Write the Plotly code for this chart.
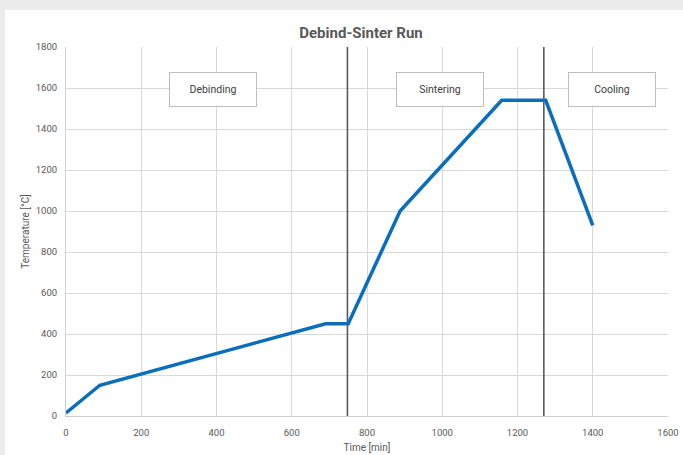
import plotly.graph_objects as go

# Data
time_min = [0, 90, 690, 750, 888, 1158, 1275, 1400]
temp_c = [15, 150, 450, 450, 1000, 1540, 1540, 930]
phase_boundaries = [748, 1270]
phase_labels = ["Debinding", "Sintering", "Cooling"]
phase_label_x = [390, 995, 1450]
phase_label_y = [1595, 1595, 1595]
x_ticks = [0, 200, 400, 600, 800, 1000, 1200, 1400, 1600]
y_ticks = [0, 200, 400, 600, 800, 1000, 1200, 1400, 1600, 1800]

W, H = 683, 455
ml, mr, mt, mb = 66, 15, 47, 39
pw, ph = W - ml - mr, H - mt - mb

fig = go.Figure()

for xb in phase_boundaries:
    fig.add_trace(go.Scatter(x=[xb, xb], y=[0, 1800], mode="lines",
                             line=dict(color="#5a5a5a", width=1.6),
                             showlegend=False, hoverinfo="skip"))

fig.add_trace(go.Scatter(x=time_min, y=temp_c, mode="lines",
                         line=dict(color="#0a6ebd", width=3.5),
                         showlegend=False))

for lx, ly, lt in zip(phase_label_x, phase_label_y, phase_labels):
    fig.add_annotation(x=lx, y=ly, xref="x", yref="y", text=lt, showarrow=False,
                       font=dict(family="Roboto", size=10.5, color="#404040"),
                       bgcolor="white", bordercolor="#bdbdbd", borderwidth=1,
                       width=84, height=31, xanchor="center", yanchor="middle")

# white card
fig.add_shape(type="rect", xref="paper", yref="paper",
              x0=(5 - ml) / pw, x1=1 + (mr + 2) / pw,
              y0=-(mb + 2) / ph, y1=1 + (mt - 10) / ph,
              fillcolor="white", line=dict(width=0), layer="below")

axis_common = dict(showgrid=True, gridcolor="#d9d9d9", gridwidth=1,
                   zeroline=False, ticks="", automargin=False,
                   tickfont=dict(family="Roboto", size=9.5, color="#595959"))

fig.update_layout(
    width=W, height=H,
    margin=dict(l=ml, r=mr, t=mt, b=mb),
    paper_bgcolor="#ececec", plot_bgcolor="white",
    title=dict(text="<b>Debind-Sinter Run</b>", x=361 / W, xanchor="center",
               y=1 - 33 / H, yanchor="middle",
               font=dict(family="Liberation Sans Narrow, Roboto", size=15, color="#595959")),
    xaxis=dict(range=[0, 1600], tickvals=x_ticks, ticklabelstandoff=8,
               title=dict(text="Time [min]", standoff=6,
                          font=dict(family="Roboto", size=10, color="#595959")),
               showline=True, linecolor="#d0d0d0", linewidth=1,
               **axis_common),
    yaxis=dict(range=[0, 1800], tickvals=y_ticks, ticklabelstandoff=6,
               title=dict(text="Temperature [°C]", standoff=4,
                          font=dict(family="Roboto", size=10, color="#595959")),
               showline=True, linecolor="#d0d0d0", linewidth=1,
               **axis_common),
)

fig.write_html("out.html", config={"displayModeBar": False},
               post_script="document.body.style.margin='0';document.body.style.overflow='hidden';")
